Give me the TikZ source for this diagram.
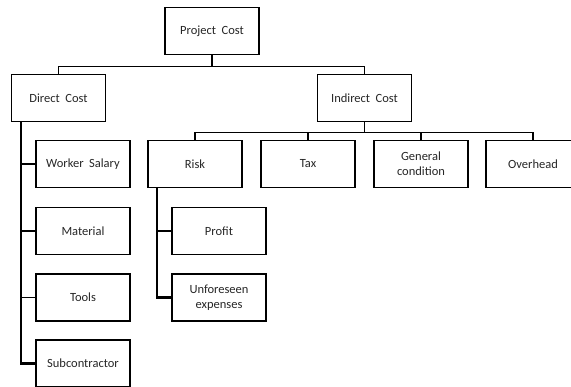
\documentclass[tikz,border=0pt]{standalone}
\usepackage{fontspec}
\setmainfont{Carlito}
\newcommand\myboxfont{\fontsize{12.5}{15}\selectfont\spaceskip=5.5pt plus 1pt\relax}
\begin{document}
\begin{tikzpicture}[x=1pt,y=-1pt,
  box/.style={draw,line width=1.4pt,minimum width=94pt,minimum height=47pt,inner sep=0pt,align=center,text=black!85,font=\myboxfont},
  conn/.style={line width=1.3pt},
  trunk/.style={line width=2.2pt}]
\useasboundingbox (0,0) rectangle (571,387);
\node[box] (pc) at (212,31) {Project Cost};
\node[box] (dc) at (58.5,98) {Direct Cost};
\node[box] (ic) at (364.5,98) {Indirect Cost};
\node[box] (ws) at (83,164) {Worker Salary};
\node[box] (mat) at (83,231) {Material};
\node[box] (tools) at (83,297.5) {Tools};
\node[box] (sub) at (83,363.5) {Subcontractor};
\node[box] (risk) at (195,164) {Risk};
\node[box] (tax) at (308,164) {Tax};
\node[box] (gc) at (421,164) {General\\condition};
\node[box] (oh) at (533,164) {Overhead};
\node[box] (prof) at (219,231) {Profit};
\node[box] (unf) at (219,297.5) {Unforeseen\\expenses};
% level 1
\draw[conn] (pc.south) -- ++(0,11) coordinate (j1);
\draw[conn] (dc.north) |- (j1) -| (ic.north);
% level 2
\draw[conn] (ic.south) -- ++(0,10) coordinate (j2);
\draw[conn] (risk.north) |- (j2) -| (oh.north);
\draw[conn] (tax.north) |- (j2);
\draw[conn] (gc.north) |- (j2);
% direct trunk
\coordinate (dt) at ([xshift=10pt]dc.south west);
\draw[trunk] (dt) |- (sub.west);
\draw[conn] (dt |- ws.west) -- (ws.west);
\draw[conn] (dt |- mat.west) -- (mat.west);
\draw[conn] (dt |- tools.west) -- (tools.west);
% risk trunk
\coordinate (rt) at ([xshift=10pt]risk.south west);
\draw[trunk] (rt) |- (unf.west);
\draw[conn] (rt |- prof.west) -- (prof.west);
\end{tikzpicture}
\end{document}
